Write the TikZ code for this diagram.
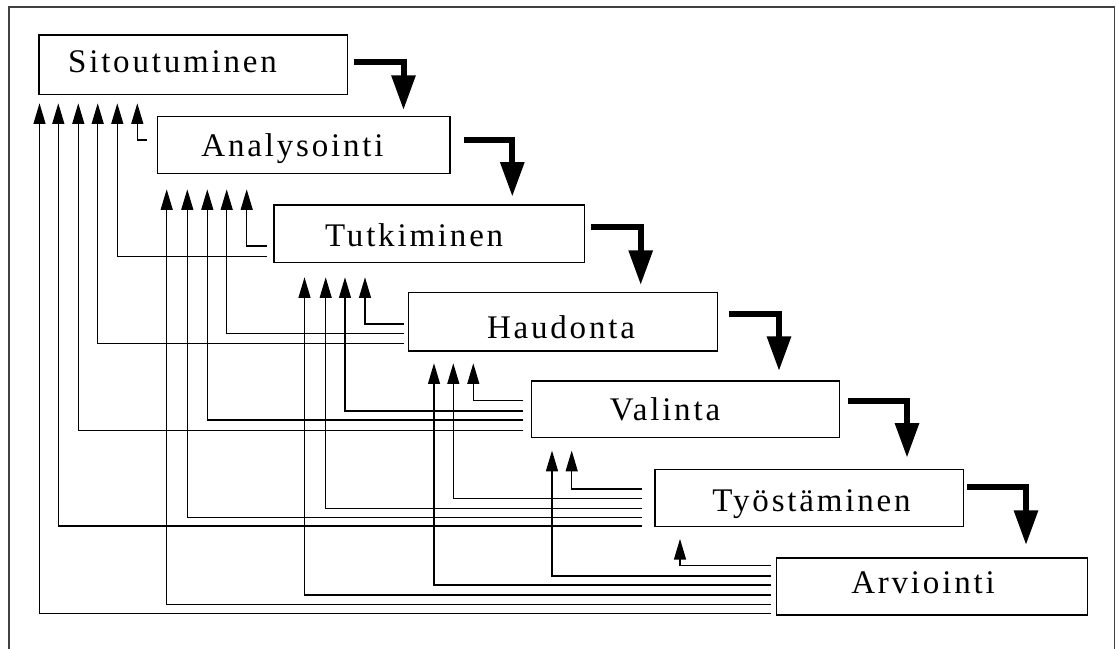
\documentclass[tikz,border=0pt]{standalone}
\usepackage{fontspec}
\setmainfont{Liberation Serif}
\newfontfamily\boxfont[LetterSpace=8.5]{Liberation Serif}
\usetikzlibrary{arrows.meta,fit,calc}

\begin{document}
\begin{tikzpicture}[x=0.75pt,y=-0.75pt,
  box/.style={draw=black, line width=0.9pt, inner sep=0pt},
  lbl/.style={anchor=base, inner sep=0pt, text=black,
    font={\boxfont\fontsize{24.75}{30}\selectfont}},
  fb/.style={line width=0.9pt, -{Triangle[length=15.5pt,width=9pt]}},
  flow/.style={line width=4.5pt, line join=miter,
    -{Triangle[length=26pt,width=17.25pt]}},
  frameline/.style={line width=1pt, draw=black!75}
]
\useasboundingbox (0,0) rectangle (1117,649);

% open frame (left, top, right)
\draw[frameline] (9,649) -- (9,7) -- (1114.3,7) -- (1114.3,649);

% phase boxes
\node[box, fit={(39,35) (347.7,94.3)}]       (S) {};
\node[box, fit={(157.3,116.7) (450,173.3)}]  (A) {};
\node[box, fit={(274,205) (584.3,262.3)}]    (T) {};
\node[box, fit={(408.3,292.3) (717.2,351)}]  (H) {};
\node[box, fit={(531.3,381) (839.4,437.7)}]  (V) {};
\node[box, fit={(655,469.3) (963.8,526.7)}]  (W) {};
\node[box, fit={(776.7,558) (1087.4,615)}]   (R) {};

% phase names
\node[lbl] (S-text) at (172.5,72.7)  {Sitoutuminen};
\node[lbl] (A-text) at (292.5,156.7) {Analysointi};
\node[lbl] (T-text) at (414.2,246)   {Tutkiminen};
\node[lbl] (H-text) at (561,338.3)   {Haudonta};
\node[lbl] (V-text) at (665,420.7)   {Valinta};
\node[lbl] (W-text) at (811.5,511.7) {Työstäminen};
\node[lbl] (R-text) at (923,593.3)   {Arviointi};

% where the return lines leave each box
\coordinate (A-out) at (146.7,0);
\coordinate (T-out) at (266.7,0);
\coordinate (H-out) at (404,0);
\coordinate (V-out) at (523.3,0);
\coordinate (W-out) at (641.7,0);
\coordinate (R-out) at (770.7,0);

% height of the return arrow tips under each box
\coordinate (S-in) at ($(S.south)+(0,8.4)$);
\coordinate (A-in) at ($(A.south)+(0,15.4)$);
\coordinate (T-in) at ($(T.south)+(0,14.4)$);
\coordinate (H-in) at ($(H.south)+(0,11.7)$);
\coordinate (V-in) at ($(V.south)+(0,12.3)$);
\coordinate (W-in) at ($(W.south)+(0,11.6)$);

% return lines: source / target / line height / column
\foreach \s/\d/\y/\x in {
  A/S/140/137.3,
  T/A/246/246.7,   T/S/256.7/117.3,
  H/T/324/365,     H/A/333.3/226.7, H/S/343.3/97.7,
  V/H/400.7/473.3, V/T/411/345,     V/A/420/207.3,   V/S/430.3/78.3,
  W/V/489/571.7,   W/H/498.3/453.3, W/T/508.5/325.7, W/A/517.5/187.3, W/S/526/58.3,
  R/W/565.7/680,   R/V/576/552,     R/H/585/434,     R/T/595/304.5,
  R/A/604.3/166.7, R/S/613.3/39.5}
  \draw[fb] (\s-out |- 0,\y) -| (\d-in -| \x,0);

% drop points of the main flow arrows
\coordinate (A-drop) at (403.5,110);
\coordinate (T-drop) at (512.3,196.7);
\coordinate (H-drop) at (640.7,285);
\coordinate (V-drop) at (779,371);
\coordinate (W-drop) at (907,457.7);
\coordinate (R-drop) at (1026,545);

% main flow arrows
\draw[flow] ($(S.north east)+(5.6,28)$)   -| (A-drop);
\draw[flow] ($(A.north east)+(13.3,24)$)  -| (T-drop);
\draw[flow] ($(T.north east)+(6.4,22.7)$) -| (H-drop);
\draw[flow] ($(H.north east)+(11.4,22)$)  -| (V-drop);
\draw[flow] ($(V.north east)+(8.2,20.7)$) -| (W-drop);
\draw[flow] ($(W.north east)+(2.8,18.7)$) -| (R-drop);
\end{tikzpicture}
\end{document}
